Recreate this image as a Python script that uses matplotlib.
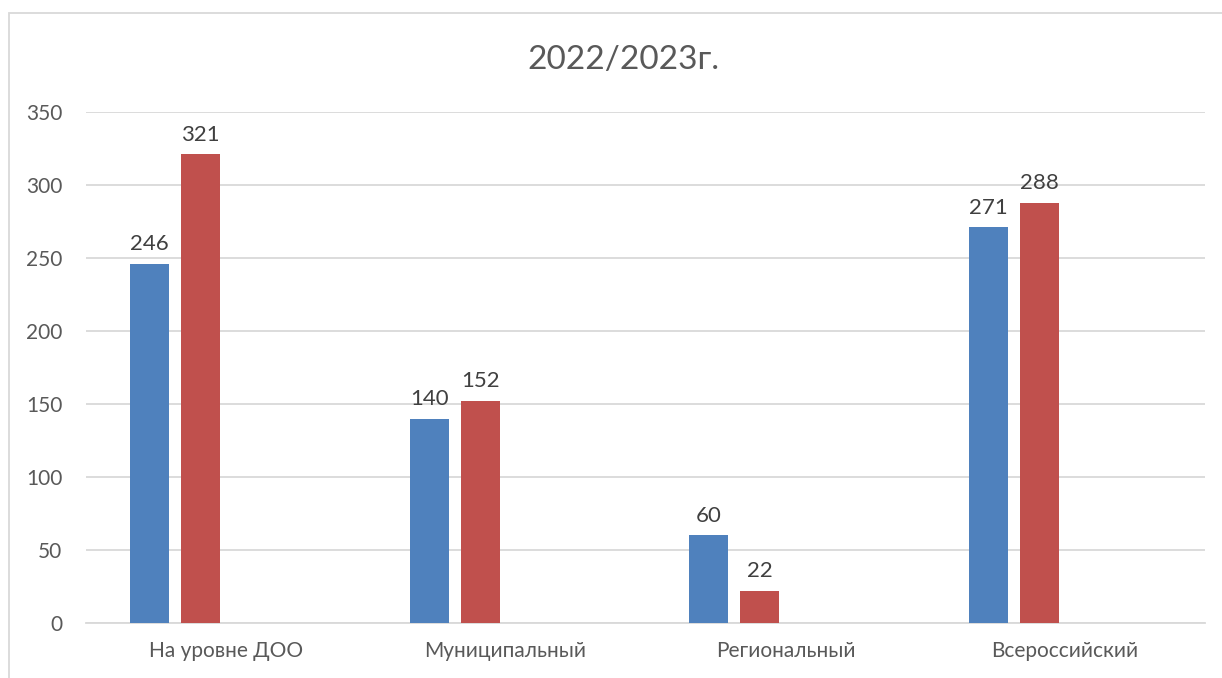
import numpy as np
import matplotlib
matplotlib.use('Agg')
import matplotlib.pyplot as plt
from matplotlib.patches import Rectangle

# chart data
categories = ['На уровне ДОО', 'Муниципальный', 'Региональный', 'Всероссийский']
series_blue = [246, 140, 60, 271]
series_red = [321, 152, 22, 288]
title = '2022/2023г.'
y_ticks = [0, 50, 100, 150, 200, 250, 300, 350]

plt.rcParams['font.family'] = ['Lato', 'DejaVu Sans']

fig = plt.figure(figsize=(12.22, 6.78), dpi=100)
ax = fig.add_axes([86 / 1222, 1 - 623 / 678, (1205 - 86) / 1222, (623 - 112) / 678])

# outer chart border (runs off the right/bottom of the picture)
fig.patches.append(Rectangle((9 / 1222, -0.1), 1.2, 1 - 13 / 678 + 0.1,
                             transform=fig.transFigure, fill=False,
                             edgecolor='#D9D9D9', linewidth=1.3))

x = np.arange(len(categories))
# 4 series slots per group in the original; only the first two carry data
bar_w = 0.1394
step = 0.1823
pos_blue = x - 1.5 * step
pos_red = x - 0.5 * step

b1 = ax.bar(pos_blue, series_blue, width=bar_w, color='#4F81BD', zorder=3)
b2 = ax.bar(pos_red, series_red, width=bar_w, color='#C0504D', zorder=3)

for bars in (b1, b2):
    for rect in bars:
        h = rect.get_height()
        ax.annotate(f'{h:g}', (rect.get_x() + rect.get_width() / 2, h),
                    xytext=(0, 7), textcoords='offset points',
                    ha='center', va='bottom', fontsize=16, color='#404040')

ax.set_xlim(-0.5, len(categories) - 0.5)
ax.set_ylim(0, 350)
ax.set_yticks(y_ticks)
ax.set_xticks(x)
ax.set_xticklabels(categories)
ax.tick_params(axis='both', length=0, labelsize=15, labelcolor='#595959')
ax.tick_params(axis='y', pad=17)
ax.tick_params(axis='x', pad=13)
ax.grid(axis='y', color='#D9D9D9', linewidth=1.3, zorder=0)
for side in ('top', 'right', 'left'):
    ax.spines[side].set_visible(False)
ax.spines['bottom'].set_color('#D9D9D9')
ax.spines['bottom'].set_linewidth(1.3)

fig.text(623 / 1222, 1 - 60 / 678, title, ha='center', va='center',
         fontsize=24, color='#595959')

fig.savefig('out.png', dpi=100)
